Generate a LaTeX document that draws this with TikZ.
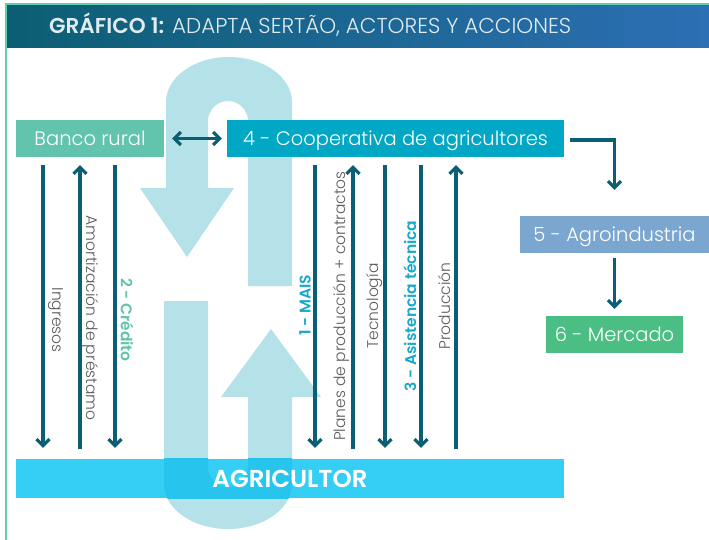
\documentclass[tikz,border=0pt]{standalone}
\usepackage{fontspec}
\setmainfont{Poppins}[UprightFont={* Light},BoldFont={* SemiBold}]
\usetikzlibrary{arrows.meta,calc}
\definecolor{dk}{HTML}{0B5E73}
\definecolor{bancoc}{HTML}{63C4AE}
\definecolor{coopc}{HTML}{00A8C6}
\definecolor{agroc}{HTML}{7AA6CF}
\definecolor{mercc}{HTML}{4BBE84}
\definecolor{agric}{HTML}{35CEF4}
\definecolor{ublue}{HTML}{B5E1E8}
\definecolor{ovl}{HTML}{27C5EE}
\definecolor{graytxt}{HTML}{5B5B5B}
\definecolor{greentxt}{HTML}{5EC6A8}
\definecolor{cyantxt}{HTML}{17A9C9}
\definecolor{hdrL}{HTML}{0C5E73}
\definecolor{hdrR}{HTML}{2C6FB4}
\definecolor{hdrtxt}{HTML}{E0ECEF}
\definecolor{border}{HTML}{5FCFB0}
\def\topU{(166,188) -- (166,102) .. controls (166,77.2) and (194.2,57) .. (229,57) .. controls (263.8,57) and (292,77.2) .. (292,102) -- (292,286) -- (248,286) -- (248,121) .. controls (248,110) and (239,101) .. (228,101) .. controls (217,101) and (208,110) .. (208,121) -- (208,188) -- (234,188) -- (187,257) -- (140,188) -- cycle}
\def\botU{(164,301) -- (208,301) -- (208,467) .. controls (208,478) and (217,487) .. (228,487) .. controls (239,487) and (248,478) .. (248,467) -- (248,397) -- (221,397) -- (271,329) -- (321,397) -- (292,397) -- (292,484) .. controls (292,508.9) and (263.3,529) .. (228,529) .. controls (192.7,529) and (164,508.9) .. (164,484) -- cycle}
\begin{document}
\begin{tikzpicture}[x=1pt,y=-1pt,
  box/.style={inner sep=0pt, text=white, text height=13.6pt, text depth=0pt,
    font=\fontsize{19.5}{22}\selectfont, minimum height=37pt},
  arr/.style={draw=dk, line width=3.2pt, -{Straight Barb[length=6.5pt,width=13pt]}},
  arrboth/.style={draw=dk, line width=3.2pt, {Straight Barb[length=6.5pt,width=13pt]}-{Straight Barb[length=6.5pt,width=13pt]}},
  lbl/.style={inner sep=0pt, text=graytxt, font=\fontsize{15.5}{17}\selectfont},
  blbl/.style={inner sep=0pt, font=\fontsize{15.5}{17}\selectfont\bfseries}]
\useasboundingbox (0,0) rectangle (709,540);
% header
\shade[left color=hdrL, right color=hdrR] (6,4) rectangle (709,48);
\draw[border, line width=1.5pt] (6,540) -- (6,4) -- (709,4);
\node[anchor=base west, inner sep=0pt, text=hdrtxt, font=\fontsize{21.5}{24}\selectfont] (title) at (49,34) {\textbf{GRÁFICO 1:} ADAPTA SERTÃO, ACTORES Y ACCIONES};
% big U arrows
\fill[ublue] \topU;
\fill[ublue] \botU;
% boxes
\node[box, fill=bancoc, minimum width=148pt] (banco) at (90,138.5) {Banco rural};
\node[box, fill=coopc, minimum width=337pt] (coop) at (395.5,138.5) {4 - Cooperativa de agricultores};
\node[box, fill=agroc, minimum width=189pt] (agro) at (614.5,234.5) {5 - Agroindustria};
\node[box, fill=mercc, minimum width=137pt] (merc) at (614.5,334.5) {6 - Mercado};
\node[inner sep=0pt, fill=agric, minimum width=548pt, minimum height=39pt] (agri) at (290,478.5) {};
\begin{scope}
  \clip (agri.north west) rectangle (agri.south east);
  \fill[ovl] \botU;
\end{scope}
\node[inner sep=0pt, text=white, text height=17.2pt, text depth=0pt, font=\fontsize{24.5}{27}\selectfont\bfseries] (agritxt) at (agri.center) {AGRICULTOR};
% connectors between boxes
\draw[arrboth] ([xshift=8pt]banco.east) -- ([xshift=-5pt]coop.west);
\draw[arr] ([xshift=6pt,yshift=-1.5pt]coop.east) -| ([yshift=26pt]agro.north);
\draw[arr] ([yshift=-5pt]agro.south) -- ([yshift=7pt]merc.north);
% x positions of flow arrows
\foreach \n/\x in {a/43,b/80,c/115,d/315,e/353,f/385,g/421,h/456}{\coordinate (x\n) at (\x,0);}
\draw[arr] ([yshift=-8pt]banco.south -| xa) -- ([yshift=11pt]agri.north -| xa);
\draw[arr] ([yshift=10pt]agri.north -| xb) -- ([yshift=-8pt]banco.south -| xb);
\draw[arr] ([yshift=-8pt]banco.south -| xc) -- ([yshift=11pt]agri.north -| xc);
\draw[arr] ([yshift=-8pt]coop.south -| xd) -- ([yshift=11pt]agri.north -| xd);
\draw[arr] ([yshift=10pt]agri.north -| xe) -- ([yshift=-8pt]coop.south -| xe);
\draw[arr] ([yshift=-8pt]coop.south -| xf) -- ([yshift=11pt]agri.north -| xf);
\draw[arr] ([yshift=-8pt]coop.south -| xg) -- ([yshift=11pt]agri.north -| xg);
\draw[arr] ([yshift=10pt]agri.north -| xh) -- ([yshift=-8pt]coop.south -| xh);
% labels
\node[lbl, rotate=-90] (l1) at (56,320) {Ingresos};
\node[lbl, rotate=-90] (l2) at (91,318) {Amortización de préstamo};
\node[blbl, rotate=-90, text=greentxt] (l3) at (127,320) {2 - Crédito};
\node[blbl, rotate=90, text=cyantxt] (l4) at (305,305) {1 - MAIS};
\node[lbl, rotate=90] (l5) at (341,306) {Planes de producción + contractos};
\node[lbl, rotate=90] (l6) at (375,306) {Tecnología};
\node[blbl, rotate=90, text=cyantxt] (l7) at (410,306) {3 - Asistencia técnica};
\node[lbl, rotate=90] (l8) at (445,306) {Producción};
\end{tikzpicture}
\end{document}
